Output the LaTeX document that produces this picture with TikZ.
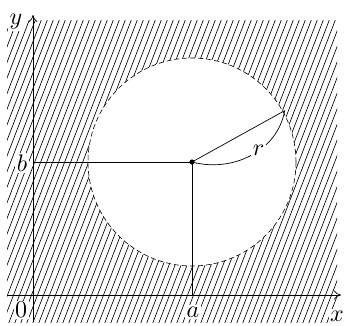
\documentclass[tikz,border=0pt]{standalone}
\usetikzlibrary{arrows.meta,calc}
\newcommand{\biglbl}[1]{\scalebox{2.4}{$#1$}}
\tikzset{
  lbl/.style={fill=white, inner sep=1.5pt},
  hatch/.style={line width=0.65pt},
  axis/.style={line width=0.7pt, -{To[length=7pt,width=9pt]}},
  thinln/.style={line width=0.7pt}
}
\begin{document}
\begin{tikzpicture}[x=1pt,y=1pt]
\useasboundingbox (0,0) rectangle (344,325);
% hatching
\begin{scope}
  \clip (7,3) rectangle (337,305);
  \foreach \i in {-130,-124,...,340} {
    \draw[hatch] (\i,0) -- ({\i+125},325);
  }
\end{scope}
\coordinate (C) at (192,163);
\fill[white] (C) circle (104);
\draw[line width=0.6pt, dash pattern=on 5pt off 3pt] (C) circle (104);
% labels
\node[lbl] (ly) at (16,303) {\biglbl{y}};
\node[lbl] (l0) at (21,15) {\biglbl{0}};
\node[lbl] (la) at (193,13) {\biglbl{a}};
\node[lbl] (lx) at (337,9) {\biglbl{x}};
\node[lbl] (lb) at (22,162) {\biglbl{b}};
% axes
\coordinate (xs) at (7,30);
\coordinate (xe) at (341,30);
\coordinate (ys) at (33,3);
\coordinate (ye) at (33,310);
\draw[axis] (xs) -- (xe);
\draw[axis] (ys) -- (ye);
% lines to center
\coordinate (Bx) at (33,163);
\coordinate (Ax) at (192,30);
\draw[thinln] (Bx) -- (C);
\draw[thinln] (C) -- (Ax);
\coordinate (P) at ($(C)+(29:106)$);
\draw[thinln] (C) -- (P);
\draw[thinln] (C) to[out=-15, in=-100] node[lbl, pos=0.58] (lr) {\biglbl{r}} (P);
\fill (C) circle (2.6);
\end{tikzpicture}
\end{document}
